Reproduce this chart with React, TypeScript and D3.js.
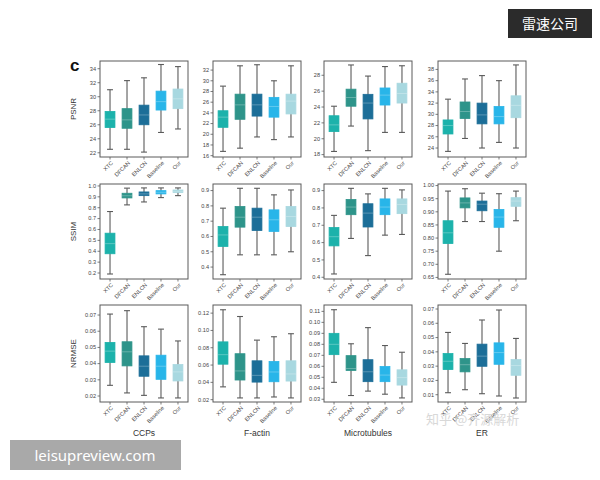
import * as d3 from "d3";

// Box stats per method: [min, q1, median, q3, max]
type Stats = [number, number, number, number, number];

const methods = ["XTC", "DFCAN", "ENLCN", "Baseline", "Our"];
const methodColors = ["#1cb2ab", "#2e948a", "#1c6e98", "#28b5e9", "#a8d8e0"];
const structures = ["CCPs", "F-actin", "Microtubules", "ER"];
const metrics = ["PSNR", "SSIM", "NRMSE"];

const psnrCcps: Stats[] = [
  [22.5, 25.6, 26.8, 27.9, 31.0],
  [22.5, 25.5, 26.7, 28.3, 32.3],
  [22.1, 26.0, 27.4, 28.8, 32.7],
  [24.9, 28.1, 29.3, 30.8, 34.6],
  [25.4, 28.3, 29.7, 31.1, 34.3],
];
const psnrActin: Stats[] = [
  [16.8, 21.3, 23.2, 24.4, 29.0],
  [17.4, 22.8, 25.5, 27.5, 32.8],
  [19.5, 23.4, 25.5, 27.5, 33.0],
  [19.0, 23.2, 25.2, 26.9, 30.0],
  [19.5, 23.8, 26.2, 27.5, 32.8],
];
const psnrMicro: Stats[] = [
  [18.4, 20.9, 21.75, 22.9, 24.1],
  [21.6, 24.1, 25.2, 26.25, 29.3],
  [18.5, 22.5, 24.5, 25.6, 27.9],
  [20.8, 24.25, 25.5, 26.4, 29.1],
  [20.8, 24.5, 25.7, 27.0, 29.2],
];
const psnrEr: Stats[] = [
  [23.4, 26.5, 28.0, 29.0, 32.7],
  [25.7, 29.25, 30.5, 32.2, 36.3],
  [24.0, 28.3, 29.9, 32.0, 36.9],
  [25.0, 28.3, 29.6, 31.4, 36.0],
  [24.0, 29.4, 31.6, 33.3, 38.8],
];

const ssimCcps: Stats[] = [
  [0.191, 0.377, 0.47, 0.566, 0.765],
  [0.826, 0.89, 0.91, 0.933, 0.98],
  [0.853, 0.911, 0.927, 0.945, 0.982],
  [0.893, 0.927, 0.942, 0.957, 0.982],
  [0.911, 0.94, 0.951, 0.963, 0.982],
];
const ssimActin: Stats[] = [
  [0.35, 0.535, 0.61, 0.665, 0.785],
  [0.48, 0.661, 0.726, 0.796, 0.915],
  [0.48, 0.639, 0.726, 0.785, 0.915],
  [0.48, 0.633, 0.709, 0.774, 0.872],
  [0.5, 0.665, 0.73, 0.796, 0.904],
];
const ssimMicro: Stats[] = [
  [0.419, 0.581, 0.634, 0.687, 0.757],
  [0.624, 0.761, 0.805, 0.849, 0.913],
  [0.525, 0.69, 0.77, 0.824, 0.881],
  [0.643, 0.761, 0.805, 0.852, 0.913],
  [0.647, 0.767, 0.82, 0.852, 0.904],
];
const ssimEr: Stats[] = [
  [0.662, 0.779, 0.82, 0.866, 0.979],
  [0.863, 0.915, 0.934, 0.953, 0.988],
  [0.863, 0.904, 0.929, 0.941, 0.971],
  [0.75, 0.841, 0.88, 0.909, 0.969],
  [0.866, 0.921, 0.941, 0.954, 0.979],
];

const nrmseCcps: Stats[] = [
  [0.0266, 0.0407, 0.0477, 0.0531, 0.0706],
  [0.0219, 0.0386, 0.0473, 0.0535, 0.0727],
  [0.0204, 0.0322, 0.0384, 0.0448, 0.0628],
  [0.0188, 0.0303, 0.0384, 0.0452, 0.0613],
  [0.0188, 0.0293, 0.0349, 0.0394, 0.054],
];
const nrmseActin: Stats[] = [
  [0.0348, 0.061, 0.072, 0.0868, 0.1239],
  [0.022, 0.0427, 0.0532, 0.0731, 0.1161],
  [0.022, 0.0403, 0.0481, 0.0649, 0.0888],
  [0.0231, 0.0407, 0.052, 0.0641, 0.0927],
  [0.022, 0.0415, 0.0497, 0.0649, 0.0962],
];
const nrmseMicro: Stats[] = [
  [0.0454, 0.0706, 0.08, 0.09, 0.1115],
  [0.0334, 0.0562, 0.058, 0.0697, 0.0805],
  [0.0374, 0.046, 0.055, 0.066, 0.0952],
  [0.0346, 0.046, 0.052, 0.0598, 0.0789],
  [0.0312, 0.0429, 0.0497, 0.0568, 0.0728],
];
const nrmseEr: Stats[] = [
  [0.0114, 0.0276, 0.0334, 0.0388, 0.0536],
  [0.0135, 0.026, 0.031, 0.0353, 0.0459],
  [0.0107, 0.0299, 0.037, 0.0454, 0.0623],
  [0.0091, 0.0313, 0.0395, 0.0463, 0.0693],
  [0.0077, 0.0236, 0.0304, 0.0346, 0.0494],
];

// y tick labels for each panel, row by row
const psnrTicks = [
  ["22", "24", "26", "28", "30", "32", "34"],
  ["16", "18", "20", "22", "24", "26", "28", "30", "32"],
  ["18", "20", "22", "24", "26", "28"],
  ["24", "26", "28", "30", "32", "34", "36", "38"],
];
const ssimTicks = [
  ["0.2", "0.3", "0.4", "0.5", "0.6", "0.7", "0.8", "0.9", "1.0"],
  ["0.4", "0.5", "0.6", "0.7", "0.8", "0.9"],
  ["0.4", "0.5", "0.6", "0.7", "0.8", "0.9"],
  ["0.65", "0.70", "0.75", "0.80", "0.85", "0.90", "0.95", "1.00"],
];
const nrmseTicks = [
  ["0.02", "0.03", "0.04", "0.05", "0.06", "0.07"],
  ["0.02", "0.04", "0.06", "0.08", "0.10", "0.12"],
  ["0.03", "0.04", "0.05", "0.06", "0.07", "0.08", "0.09", "0.10", "0.11"],
  ["0.01", "0.02", "0.03", "0.04", "0.05", "0.06", "0.07"],
];

// y domains per panel
const psnrDomains = [[21.4, 35.1], [15.75, 33.7], [17.7, 29.8], [22.4, 39.5]];
const ssimDomains = [[0.145, 1.018], [0.322, 0.943], [0.39, 0.938], [0.644, 1.006]];
const nrmseDomains = [[0.0163, 0.0762], [0.0173, 0.1294], [0.0275, 0.1158], [0.0049, 0.0728]];

const grid = [
  { data: [psnrCcps, psnrActin, psnrMicro, psnrEr], ticks: psnrTicks, domains: psnrDomains },
  { data: [ssimCcps, ssimActin, ssimMicro, ssimEr], ticks: ssimTicks, domains: ssimDomains },
  { data: [nrmseCcps, nrmseActin, nrmseMicro, nrmseEr], ticks: nrmseTicks, domains: nrmseDomains },
];

const colLeft = [100, 213, 324, 438];
const panelW = 88;
const rowTop = [61, 184, 305];
const rowH = [96, 95, 97];

const font = "Liberation Sans, Arial, sans-serif";
const axisGray = "#5a5a5a";

function Panel({
  left,
  top,
  height,
  data,
  ticks,
  domain,
}: {
  left: number;
  top: number;
  height: number;
  data: Stats[];
  ticks: string[];
  domain: number[];
}) {
  const x = d3
    .scaleBand<string>()
    .domain(methods)
    .range([left, left + panelW])
    .paddingInner(0.42)
    .paddingOuter(0.3);
  const y = d3.scaleLinear().domain(domain).range([top + height, top]);
  const bw = x.bandwidth();
  const capW = bw * 0.6;

  return (
    <g>
      {data.map((s, i) => {
        const cx = (x(methods[i]) ?? 0) + bw / 2;
        const x0 = x(methods[i]) ?? 0;
        return (
          <g key={i}>
            <line x1={cx} x2={cx} y1={y(s[0])} y2={y(s[4])} stroke={axisGray} strokeWidth={1.1} />
            <line x1={cx - capW / 2} x2={cx + capW / 2} y1={y(s[0])} y2={y(s[0])} stroke={axisGray} strokeWidth={1.1} />
            <line x1={cx - capW / 2} x2={cx + capW / 2} y1={y(s[4])} y2={y(s[4])} stroke={axisGray} strokeWidth={1.1} />
            <rect
              x={x0}
              y={y(s[3])}
              width={bw}
              height={y(s[1]) - y(s[3])}
              fill={methodColors[i]}
              stroke={methodColors[i]}
              strokeWidth={0.8}
            />
            <line x1={x0} x2={x0 + bw} y1={y(s[2])} y2={y(s[2])} stroke="#ffffff" strokeOpacity={0.35} strokeWidth={0.8} />
          </g>
        );
      })}
      <rect x={left} y={top} width={panelW} height={height} fill="none" stroke={axisGray} strokeWidth={1} />
      {ticks.map((t) => (
        <g key={t}>
          <line x1={left - 2.5} x2={left} y1={y(+t)} y2={y(+t)} stroke={axisGray} strokeWidth={0.8} />
          <text
            x={left - 4}
            y={y(+t)}
            dy="0.33em"
            textAnchor="end"
            fontSize={5.6}
            fill="#444"
            fontFamily={font}
          >
            {t}
          </text>
        </g>
      ))}
      {methods.map((m) => {
        const cx = (x(m) ?? 0) + bw / 2;
        const by = top + height;
        return (
          <g key={m}>
            <line x1={cx} x2={cx} y1={by} y2={by + 2.5} stroke={axisGray} strokeWidth={0.8} />
            <text
              transform={`translate(${cx + 2},${by + 5}) rotate(-45)`}
              textAnchor="end"
              dy="0.35em"
              fontSize={5.6}
              fill="#444"
              fontFamily={font}
            >
              {m}
            </text>
          </g>
        );
      })}
    </g>
  );
}

export default function App() {
  return (
    <svg
      width={600}
      height={480}
      viewBox="0 0 600 480"
      style={{ position: "absolute", left: 0, top: 0, background: "#fff" }}
    >
      <rect width={600} height={480} fill="#ffffff" />
      <text x={70} y={71} fontSize={17} fontWeight="bold" fontFamily={font} fill="#111">
        c
      </text>
      {grid.map((row, r) =>
        row.data.map((d, c) => (
          <Panel
            key={`${r}-${c}`}
            left={colLeft[c]}
            top={rowTop[r]}
            height={rowH[r]}
            data={d}
            ticks={row.ticks[c]}
            domain={row.domains[c]}
          />
        )),
      )}
      {metrics.map((m, r) => (
        <text
          key={m}
          transform={`translate(76,${rowTop[r] + rowH[r] / 2}) rotate(-90)`}
          textAnchor="middle"
          fontSize={8}
          fill="#333"
          fontFamily={font}
        >
          {m}
        </text>
      ))}
      {structures.map((s, c) => (
        <text
          key={s}
          x={colLeft[c] + panelW / 2}
          y={436}
          textAnchor="middle"
          fontSize={8.5}
          fill="#333"
          fontFamily={font}
        >
          {s}
        </text>
      ))}
      <text x={426} y={424} fontSize={13} fill="#d8d8d8" fontFamily="Noto Sans CJK SC, sans-serif">
        知乎 @齐源解析
      </text>
      <rect x={508} y={9} width={84} height={29} fill="#2b2b2b" />
      <text x={550} y={29} textAnchor="middle" fontSize={14} fill="#ffffff" fontFamily="Noto Sans CJK SC, sans-serif">
        雷速公司
      </text>
      <rect x={10} y={440} width={171} height={30} fill="#a9a9a9" />
      <text x={95} y={461} textAnchor="middle" fontSize={15} fill="#ffffff" fontFamily="Noto Sans, sans-serif">
        leisupreview.com
      </text>
    </svg>
  );
}
